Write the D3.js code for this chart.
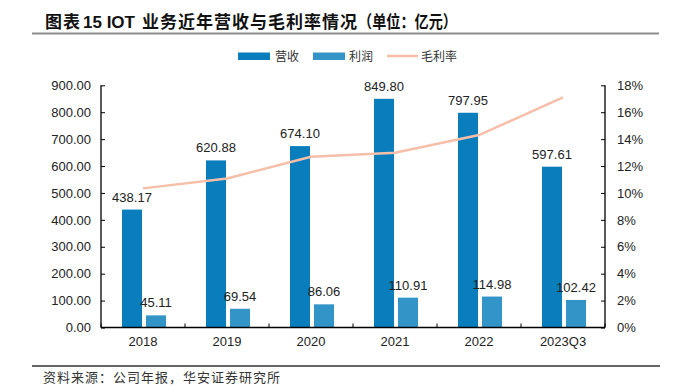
<!DOCTYPE html>
<html><head><meta charset="utf-8">
<script src="https://cdn.jsdelivr.net/npm/d3@7/dist/d3.min.js"></script>
<style>body{margin:0;background:#fff}svg{display:block}</style>
</head><body>
<svg id="c" width="673" height="389"></svg>
<script>
const categories = ["2018","2019","2020","2021","2022","2023Q3"];
const revenue = [438.17, 620.88, 674.10, 849.80, 797.95, 597.61];
const profit = [45.11, 69.54, 86.06, 110.91, 114.98, 102.42];
const margin = [10.34, 11.08, 12.69, 12.99, 14.30, 17.10];
const leftTicks = [0,100,200,300,400,500,600,700,800,900];
const rightTicks = [0,2,4,6,8,10,12,14,16,18];
const seriesNames = ["营收","利润","毛利率"];
const colors = {rev:"#0a7dbc", prof:"#3394c8", line:"#f5bfa9"};

const svg = d3.select("#c");
const L = 101, R = 605, T = 85.3, B = 327.5;
const font = "Arial, 'Liberation Sans', sans-serif";
const cjk = "'Noto Sans CJK SC', sans-serif";

// title
const tg = svg.append("g").attr("font-size",17).attr("font-weight","bold").attr("fill","#111");
tg.append("text").attr("x",45).attr("y",27.5).attr("font-family",cjk).attr("letter-spacing",1).text("图表");
tg.append("text").attr("x",83).attr("y",27.5).attr("font-family",font).text("15 IOT");
tg.append("text").attr("x",142).attr("y",27.5).attr("font-family",cjk).attr("letter-spacing",1).text("业务近年营收与毛利率情况");
tg.append("text").attr("x",358).attr("y",27.5).attr("font-family",cjk).attr("textLength",99).attr("lengthAdjust","spacingAndGlyphs").text("（单位：亿元）");
svg.append("line").attr("x1",32).attr("x2",659).attr("y1",33.5).attr("y2",33.5).attr("stroke","#8c8c8c").attr("stroke-width",2);

// scales
const x0 = d3.scaleBand().domain(categories).range([L,R]).padding(0);
const x1 = d3.scaleBand().domain(["rev","prof"]).range([x0.bandwidth()*0.25, x0.bandwidth()*0.774]).paddingInner(0.1667).paddingOuter(0);
const yL = d3.scaleLinear().domain([0,900]).range([B,T]);
const yR = d3.scaleLinear().domain([0,18]).range([B,T]);

// bars
const g = svg.append("g");
categories.forEach((c,i)=>{
  const bx = x0(c);
  [["rev",revenue[i]],["prof",profit[i]]].forEach(([k,v])=>{
    const xx = bx + x1(k);
    g.append("rect").attr("x",xx).attr("y",yL(v)).attr("width",x1.bandwidth()).attr("height",B-yL(v)).attr("fill",colors[k]);
    g.append("text").attr("x",xx+x1.bandwidth()/2).attr("y",yL(v)-8).attr("text-anchor","middle")
      .attr("font-family",font).attr("font-size",13).attr("fill","#222").text(v.toFixed(2));
  });
});

// line
const line = d3.line().x((d,i)=>x0(categories[i])+x0.bandwidth()/2).y(d=>yR(d));
svg.append("path").datum(margin).attr("d",line).attr("fill","none").attr("stroke",colors.line).attr("stroke-width",2.5);

// axes
const axL = d3.axisLeft(yL).tickValues(leftTicks).tickSize(-4).tickPadding(10).tickFormat(d=>d.toFixed(2));
const gl = svg.append("g").attr("transform",`translate(${L},0)`).call(axL);
const axR = d3.axisRight(yR).tickValues(rightTicks).tickSize(-4).tickPadding(12).tickFormat(d=>d+"%");
const gr = svg.append("g").attr("transform",`translate(${R},0)`).call(axR);
const axB = d3.axisBottom(x0).tickSize(0).tickPadding(9);
const gb = svg.append("g").attr("transform",`translate(0,${B})`).call(axB);
// category boundary ticks
d3.range(categories.length+1).forEach(i=>{
  const xx = L + x0.step()*i;
  svg.append("line").attr("x1",xx).attr("x2",xx).attr("y1",B).attr("y2",B-4).attr("stroke","#000");
});
[gl,gr,gb].forEach(a=>{
  a.selectAll("path,line").attr("stroke","#000");
  a.selectAll("text").attr("font-family",font).attr("font-size",13).attr("fill","#222");
  a.select(".domain").attr("stroke-width",1.3);
});
gl.select(".domain").attr("d",`M0,${T}V${B}`);
gr.select(".domain").attr("d",`M0,${T}V${B}`);
gb.select(".domain").attr("d",`M${L},0H${R}`);

// legend
const lg = svg.append("g").attr("font-family",cjk).attr("font-size",12).attr("fill","#333");
lg.append("rect").attr("x",238).attr("y",52.5).attr("width",32).attr("height",7.5).attr("fill",colors.rev);
lg.append("text").attr("x",275).attr("y",60.5).text(seriesNames[0]);
lg.append("rect").attr("x",313).attr("y",52.5).attr("width",32).attr("height",7.5).attr("fill",colors.prof);
lg.append("text").attr("x",349).attr("y",60.5).text(seriesNames[1]);
lg.append("line").attr("x1",387).attr("x2",418).attr("y1",56).attr("y2",56).attr("stroke",colors.line).attr("stroke-width",2.5);
lg.append("text").attr("x",421).attr("y",60.5).text(seriesNames[2]);

// footer
svg.append("line").attr("x1",32).attr("x2",660).attr("y1",366).attr("y2",366).attr("stroke","#333").attr("stroke-width",1.5);
svg.append("text").attr("x",43).attr("y",382).attr("font-family",cjk).attr("font-size",13).attr("letter-spacing",1).attr("fill","#333").text("资料来源：公司年报，华安证券研究所");
</script>
</body></html>
